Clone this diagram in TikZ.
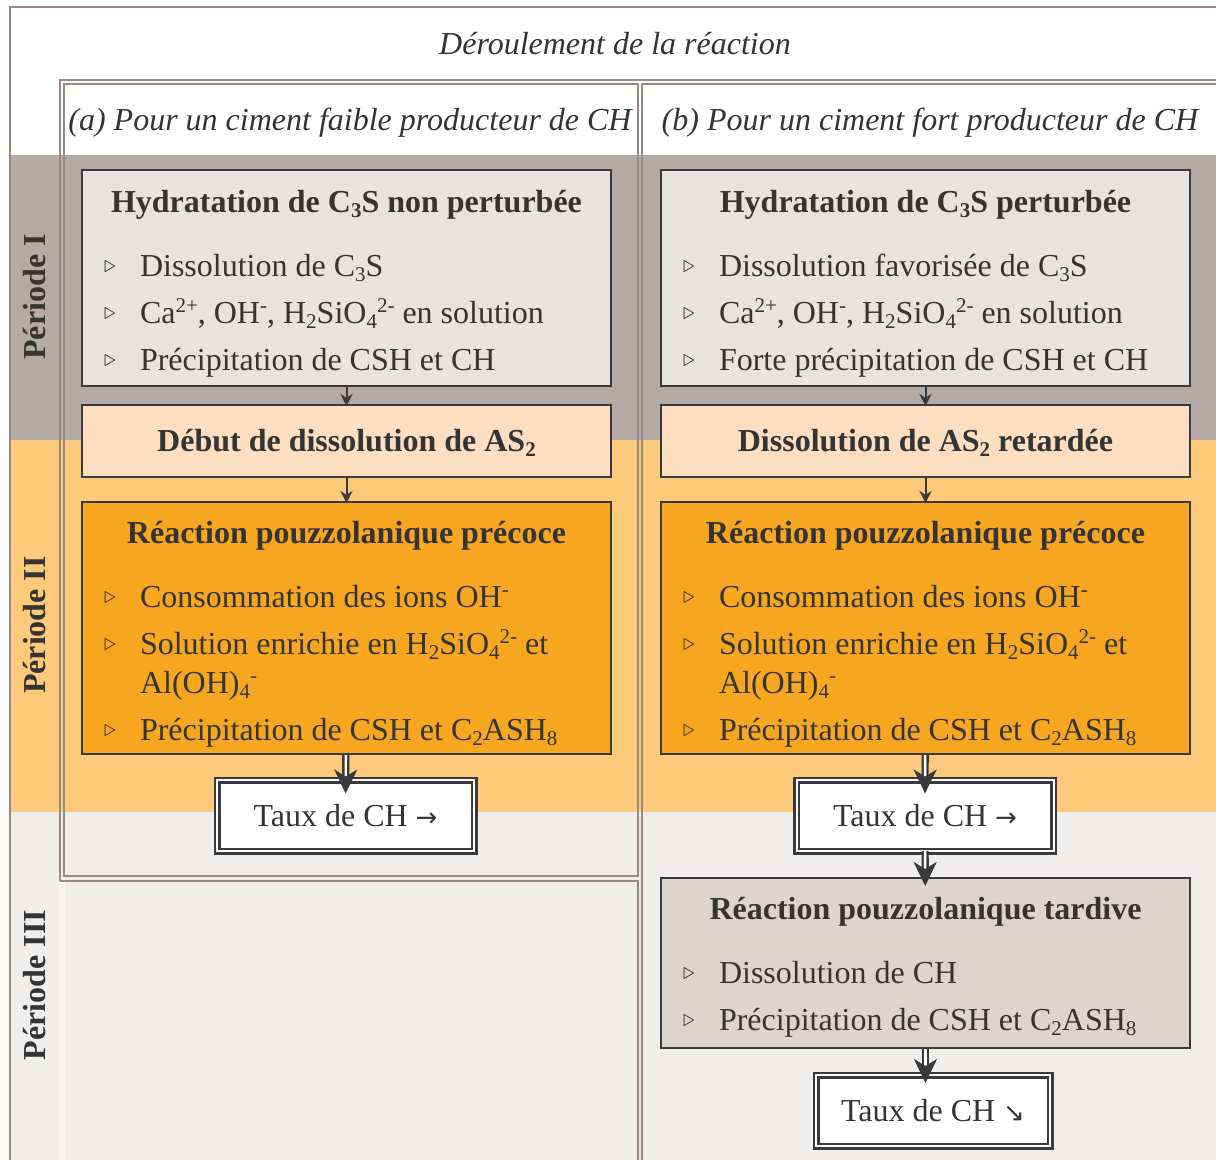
\documentclass[tikz,border=0pt]{standalone}
\usepackage{fontspec}
\usepackage{tikz}
\usetikzlibrary{arrows.meta}
\setmainfont{Liberation Serif}
\newfontfamily\symb{DejaVu Sans}

\definecolor{cadre}{RGB}{152,137,133}
\definecolor{trait}{RGB}{58,58,60}
\definecolor{encre}{RGB}{52,52,52}
\definecolor{bandeI}{RGB}{181,170,166}
\definecolor{bandeII}{RGB}{253,201,123}
\definecolor{bandeIII}{RGB}{239,238,236}
\definecolor{gris}{RGB}{231,227,225}
\definecolor{peche}{RGB}{253,222,192}
\definecolor{orangefort}{RGB}{247,166,32}
\definecolor{taupe}{RGB}{220,212,209}

\newcommand{\corps}{\fontsize{16pt}{19.5pt}\selectfont}
\newcommand{\bas}[1]{\raisebox{-2.3pt}{\fontsize{10.5pt}{10.5pt}\selectfont #1}}
\newcommand{\haut}[1]{\raisebox{5.6pt}{\fontsize{10.5pt}{10.5pt}\selectfont #1}}
\newcommand{\titre}[1]{{\centering\bfseries #1\par}\vspace{12.5pt}}
\newcommand{\puce}[1]{\hangindent=29pt\hangafter=1\noindent\hspace*{11pt}%
  \makebox[18pt][l]{\raisebox{2.2pt}{\fontsize{13pt}{13pt}\selectfont$\triangleright$}}#1\par\vspace{4pt}}

\begin{document}
\begin{tikzpicture}[x=0.5pt, y=-0.5pt,
    ligne/.style={draw=cadre, line width=1.1pt},
    boite/.style={draw=trait, line width=1pt, inner xsep=0pt, inner ysep=0pt,
      text width=264.5pt, align=flush left, text=encre, font=\corps},
    encadre/.style={draw=trait, double=white, line width=1.25pt, double distance=1pt,
      fill=white, minimum width=128.5pt, minimum height=35.5pt, inner sep=0pt,
      outer sep=0pt, text=encre, font=\corps},
    entete/.style={text=encre, font=\corps\itshape},
    periode/.style={rotate=90, text=encre, font=\corps\bfseries},
    lien/.style={draw=trait, line width=1pt, -{Stealth[length=6pt, width=6pt]}},
    flux/.style={draw=trait, double=white, line width=1.2pt, double distance=1.2pt,
      -{Stealth[length=12pt, width=11.5pt, inset=3.5pt]}}]
  \useasboundingbox (0,0) rectangle (1216,1160);
  \fill[white] (0,0) rectangle (1216,1160);
  % Bands
  \fill[bandeI] (10,155) rectangle (1216,440);
  \fill[bandeII] (10,440) rectangle (1216,812);
  \fill[bandeIII] (10,812) rectangle (1216,1160);
  \fill[white] (10,84) rectangle (1216,155);
  \fill[white, opacity=0.5] (59,881) rectangle (65,1160);
  % Frames
  \draw[ligne] (1216,7) -- (10,7) -- (10,1160);
  \draw[ligne] (60,881) -- (60,80) -- (1216,80);
  \draw[ligne] (64,84) rectangle (638,876);
  \draw[ligne] (60,881) -- (638,881) -- (638,1160);
  \draw[ligne] (642,1160) -- (642,84) -- (1216,84);
  % Headers
  \node[entete] (titre) at (615,44) {Déroulement de la réaction};
  \node[entete] (enteteA) at (350,123) {(a) Pour un ciment faible producteur de CH};
  \node[entete] (enteteB) at (930,123) {(b) Pour un ciment fort producteur de CH};
  \node[periode] (perI) at (35,297) {Période I};
  \node[periode] (perII) at (35,625) {Période II};
  \node[periode] (perIII) at (35,985) {Période III};
  % Nodes (a)
  \node[boite, fill=gris, text height=21.25pt, text depth=86.75pt] (hydA) at (346.5,278) {%
    \titre{Hydratation de C\bas{3}S non perturbée}%
    \puce{Dissolution de C\bas{3}S}%
    \puce{Ca\haut{2+}, OH\haut{-}, H\bas{2}SiO\bas{4}\haut{2-} en solution}%
    \puce{Précipitation de CSH et CH}};
  \node[boite, fill=peche, align=flush center, font=\corps\bfseries, text height=23.25pt, text depth=12.75pt] (dissA) at (346.5,441)
    {Début de dissolution de AS\bas{2}};
  \node[boite, fill=orangefort, text height=20.75pt, text depth=105.25pt] (pouzA) at (346.5,628) {%
    \titre{Réaction pouzzolanique précoce}%
    \puce{Consommation des ions OH\haut{-}}%
    \puce{Solution enrichie en H\bas{2}SiO\bas{4}\haut{2-} et\newline Al(OH)\bas{4}\haut{-}}%
    \puce{Précipitation de CSH et C\bas{2}ASH\bas{8}}};
  \node[encadre] (tauxA) at (345.5,815.5) {Taux de CH {\symb\fontsize{13pt}{13pt}\selectfont →}};
  % Nodes (b)
  \node[boite, fill=gris, text height=21.25pt, text depth=86.75pt] (hydB) at (925.5,278) {%
    \titre{Hydratation de C\bas{3}S perturbée}%
    \puce{Dissolution favorisée de C\bas{3}S}%
    \puce{Ca\haut{2+}, OH\haut{-}, H\bas{2}SiO\bas{4}\haut{2-} en solution}%
    \puce{Forte précipitation de CSH et CH}};
  \node[boite, fill=peche, align=flush center, font=\corps\bfseries, text height=23.25pt, text depth=12.75pt] (dissB) at (925.5,441)
    {Dissolution de AS\bas{2} retardée};
  \node[boite, fill=orangefort, text height=20.75pt, text depth=105.25pt] (pouzB) at (925.5,628) {%
    \titre{Réaction pouzzolanique précoce}%
    \puce{Consommation des ions OH\haut{-}}%
    \puce{Solution enrichie en H\bas{2}SiO\bas{4}\haut{2-} et\newline Al(OH)\bas{4}\haut{-}}%
    \puce{Précipitation de CSH et C\bas{2}ASH\bas{8}}};
  \node[encadre] (tauxB) at (925,815.5) {Taux de CH {\symb\fontsize{13pt}{13pt}\selectfont →}};
  \node[boite, fill=taupe, text height=20.75pt, text depth=64.25pt] (tardB) at (925.5,963) {%
    \titre{Réaction pouzzolanique tardive}%
    \puce{Dissolution de CH}%
    \puce{Précipitation de CSH et C\bas{2}ASH\bas{8}}};
  \node[encadre, minimum width=117pt] (tauxC) at (933,1110.5) {Taux de CH {\symb\fontsize{13pt}{13pt}\selectfont ↘}};
  % Edges
  \draw[lien, shorten >=-1pt] (hydA) -- (dissA);
  \draw[lien, shorten >=-1pt] (dissA) -- (pouzA);
  \draw[flux, shorten >=-6.75pt] (pouzA) -- (tauxA);
  \draw[lien, shorten >=-1pt] (hydB) -- (dissB);
  \draw[lien, shorten >=-1pt] (dissB) -- (pouzB);
  \draw[flux, shorten >=-6.75pt] (pouzB) -- (tauxB);
  \draw[flux, shorten >=-4.5pt] (tauxB) -- (tardB);
  \draw[flux, shorten >=-4pt] (tardB.south) -- (tardB.south |- tauxC.north);
\end{tikzpicture}
\end{document}
